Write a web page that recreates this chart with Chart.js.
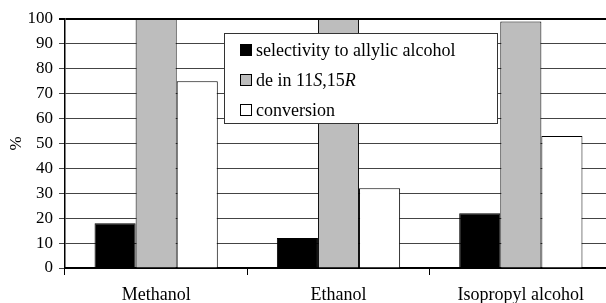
<!DOCTYPE html>
<html>
<head>
<meta charset="utf-8">
<script src="https://cdn.jsdelivr.net/npm/chart.js@4/dist/chart.umd.min.js"></script>
<style>
  html, body { margin: 0; padding: 0; background: #fff; overflow: hidden; }
  #wrap { width: 612px; height: 303px; }
</style>
</head>
<body>
<div id="wrap"><canvas id="chart" width="612" height="303"></canvas></div>
<script>
const categories = ['Methanol', 'Ethanol', 'Isopropyl alcohol'];
const selectivity = [18, 12, 22];
const deValues = [100, 100, 99];
const conversion = [75, 32, 53];
const yTicks = [0, 10, 20, 30, 40, 50, 60, 70, 80, 90, 100];

const serif = '"Liberation Serif", "DejaVu Serif", serif';

// legend drawn on the canvas so the italic S and R can be mixed in
const legendBox = {
  id: 'legendBox',
  afterDraw(chart) {
    const ctx = chart.ctx;
    const x = 224, y = 33, w = 273, h = 90;
    ctx.save();
    ctx.fillStyle = '#fff';
    ctx.fillRect(x, y, w, h);
    ctx.strokeStyle = '#333';
    ctx.lineWidth = 1;
    ctx.strokeRect(x + 0.5, y + 0.5, w, h);

    const rows = [
      { fill: '#000', parts: [['selectivity to allylic alcohol', false]] },
      { fill: '#bdbdbd', parts: [['de in 11', false], ['S', true], [',15', false], ['R', true]] },
      { fill: '#fff', parts: [['conversion', false]] }
    ];
    rows.forEach((r, i) => {
      const cy = y + 17 + i * 30;
      ctx.fillStyle = r.fill;
      ctx.fillRect(240, cy - 6, 12, 12);
      ctx.strokeStyle = '#000';
      ctx.strokeRect(240.5, cy - 5.5, 11, 11);
      let tx = 256;
      ctx.fillStyle = '#000';
      ctx.textBaseline = 'middle';
      r.parts.forEach(([t, it]) => {
        ctx.font = (it ? 'italic ' : '') + '18px ' + serif;
        ctx.fillText(t, tx, cy + 1);
        tx += ctx.measureText(t).width;
      });
    });
    ctx.restore();
  }
};

new Chart(document.getElementById('chart'), {
  type: 'bar',
  data: {
    labels: categories,
    datasets: [
      { label: 'selectivity to allylic alcohol', data: selectivity, backgroundColor: '#000' },
      { label: 'de in 11S,15R', data: deValues, backgroundColor: '#bdbdbd' },
      { label: 'conversion', data: conversion, backgroundColor: '#fff' }
    ]
  },
  options: {
    responsive: false,
    animation: false,
    devicePixelRatio: 1,
    layout: { padding: { top: 19, left: 0, right: 0, bottom: 0 } },
    datasets: {
      bar: {
        borderColor: '#000',
        borderWidth: 1,
        categoryPercentage: 0.676,
        barPercentage: 1
      }
    },
    plugins: {
      legend: { display: false },
      tooltip: { enabled: false }
    },
    scales: {
      x: {
        grid: { drawOnChartArea: false, drawTicks: true, tickLength: 7, color: '#000', lineWidth: 1, offset: true },
        border: { color: '#000', width: 2 },
        ticks: { color: '#000', font: { family: serif, size: 18 }, padding: 9, maxRotation: 0 },
        afterFit(scale) { scale.height = 35; }
      },
      y: {
        min: 0,
        max: 100,
        afterBuildTicks(scale) { scale.ticks = yTicks.map(v => ({ value: v })); },
        grid: {
          color: ctx => ctx.tick && ctx.tick.value === 100 ? '#000' : '#444',
          lineWidth: ctx => ctx.tick && ctx.tick.value === 100 ? 2 : 1,
          tickLength: 6
        },
        border: { color: '#000', width: 1.5 },
        ticks: { color: '#000', font: { family: serif, size: 17 }, padding: 6 },
        title: { display: true, text: '%', color: '#000', font: { family: serif, size: 17 }, padding: { top: 6, bottom: 0 } },
        afterFit(scale) { scale.width = 65; }
      }
    }
  },
  plugins: [legendBox]
});
</script>
</body>
</html>
